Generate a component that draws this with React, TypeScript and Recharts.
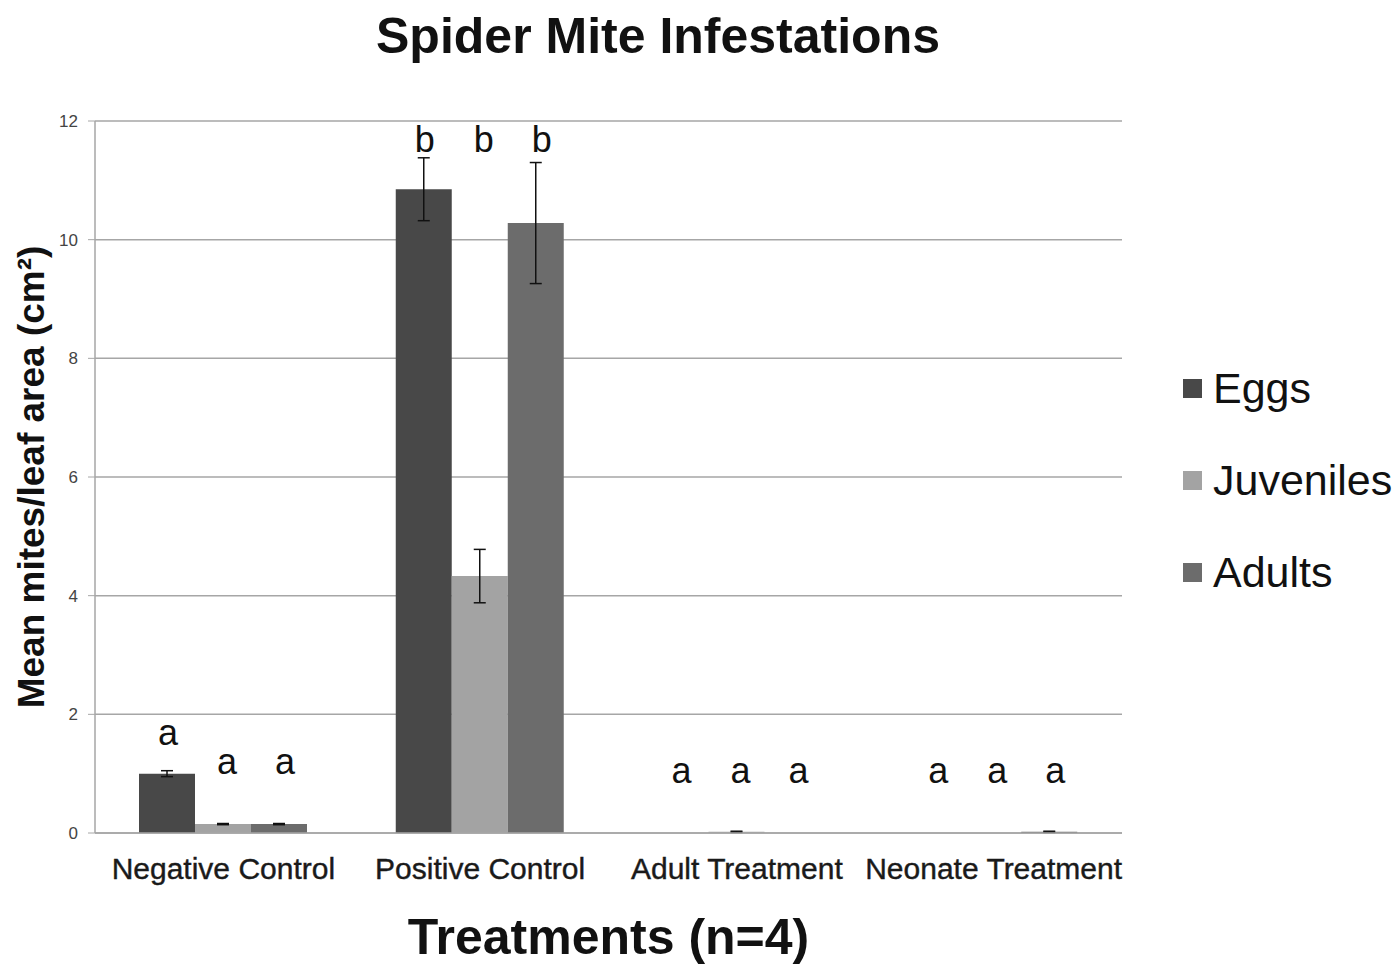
import React from 'react';
import { BarChart, Bar, XAxis, YAxis, CartesianGrid, ErrorBar, Legend, Rectangle } from 'recharts';

const categories = ['Negative Control', 'Positive Control', 'Adult Treatment', 'Neonate Treatment'];

const eggs = [1.0, 10.85, 0, 0];
const eggsErr = [0.05, 0.53, 0, 0];
const juveniles = [0.15, 4.33, 0.02, 0];
const juvenilesErr = [0.01, 0.45, 0.01, 0];
const adults = [0.15, 10.28, 0, 0.02];
const adultsErr = [0.01, 1.02, 0, 0.01];

// significance letters and the height (in data units) where each sits
const eggsLetters = ['a', 'b', 'a', 'a'];
const juvenilesLetters = ['a', 'b', 'a', 'a'];
const adultsLetters = ['a', 'b', 'a', 'a'];
const eggsLetterAt = [1.69, 11.68, 1.06, 1.06];
const juvenilesLetterAt = [1.21, 11.68, 1.06, 1.06];
const adultsLetterAt = [1.21, 11.68, 1.06, 1.06];

const yTicks = [0, 2, 4, 6, 8, 10, 12];

const data = categories.map((name, i) => ({
  name,
  eggs: eggs[i],
  eggsErr: eggsErr[i],
  juveniles: juveniles[i],
  juvenilesErr: juvenilesErr[i],
  adults: adults[i],
  adultsErr: adultsErr[i],
}));

const series = [
  { key: 'eggs', label: 'Eggs', color: '#484848', letters: eggsLetters, at: eggsLetterAt, dx: 1 },
  { key: 'juveniles', label: 'Juveniles', color: '#a3a3a3', letters: juvenilesLetters, at: juvenilesLetterAt, dx: 4 },
  { key: 'adults', label: 'Adults', color: '#6c6c6c', letters: adultsLetters, at: adultsLetterAt, dx: 6 },
];

const W = 1397;
const H = 966;
const M = { top: 121, right: 275, bottom: 0, left: 0 };
const X_AXIS_H = 133;
const PLOT_H = H - M.top - M.bottom - X_AXIS_H;
const Y_MAX = 12;
const FONT = '"Liberation Sans", Arial, sans-serif';

// bar shape that also draws the significance letter above it
const barWithLetter = (letters: string[], at: number[], dx: number) => (props: any) => {
  const { x, y, width, height, index, fill } = props;
  const bottom = Number(y) + Number(height);
  const ly = bottom - (at[index] / Y_MAX) * PLOT_H;
  return (
    <g>
      <Rectangle x={x} y={y} width={width} height={height} fill={fill} />
      <text
        x={Number(x) + Number(width) / 2 + dx}
        y={ly}
        textAnchor="middle"
        dominantBaseline="central"
        fontSize={36}
        fontFamily={FONT}
        fill="#111"
      >
        {letters[index]}
      </text>
    </g>
  );
};

const LegendContent = () => (
  <div style={{ fontFamily: FONT }}>
    {series.map((s) => (
      <div key={s.key} style={{ display: 'flex', alignItems: 'center', height: 92 }}>
        <span style={{ width: 19, height: 19, background: s.color, marginRight: 11, display: 'inline-block' }} />
        <span style={{ fontSize: 43, color: '#111' }}>{s.label}</span>
      </div>
    ))}
  </div>
);

export default function App() {
  return (
    <div style={{ position: 'absolute', left: 0, top: 0, width: W, height: H, background: '#fff' }}>
      <div
        style={{
          position: 'absolute',
          left: 0,
          width: 1316,
          top: 7,
          textAlign: 'center',
          fontFamily: FONT,
          fontWeight: 'bold',
          fontSize: 50,
          color: '#111',
        }}
      >
        Spider Mite Infestations
      </div>
      <BarChart width={W} height={H} data={data} margin={M} barGap={0} barSize={56}>
        <CartesianGrid vertical={false} stroke="#a6a6a6" strokeWidth={1.5} />
        <XAxis
          dataKey="name"
          height={X_AXIS_H}
          axisLine={{ stroke: '#a6a6a6', strokeWidth: 1.5 }}
          tickLine={false}
          tick={{ fontSize: 30, fill: '#1a1a1a', fontFamily: FONT, stroke: '#1a1a1a', strokeWidth: 0.4 }}
          tickMargin={19}
          interval={0}
          label={{
            value: 'Treatments (n=4)',
            position: 'insideBottom',
            offset: 12,
            fontSize: 50,
            fontWeight: 'bold',
            fill: '#111',
            fontFamily: FONT,
          }}
        />
        <YAxis
          width={95}
          domain={[0, Y_MAX]}
          ticks={yTicks}
          axisLine={{ stroke: '#a6a6a6', strokeWidth: 1.5 }}
          tickLine={{ stroke: '#a6a6a6' }}
          tickSize={7}
          tickMargin={10}
          tick={{ fontSize: 17, fill: '#444', fontFamily: FONT }}
          label={{
            value: 'Mean mites/leaf area (cm²)',
            angle: -90,
            position: 'insideLeft',
            offset: 31,
            style: { textAnchor: 'middle' },
            fontSize: 37,
            fontWeight: 'bold',
            fill: '#111',
            fontFamily: FONT,
          }}
        />
        <Legend
          layout="vertical"
          align="center"
          verticalAlign="middle"
          wrapperStyle={{ left: 1183, top: 342, width: 214 }}
          content={<LegendContent />}
        />
        {series.map((s) => (
          <Bar
            key={s.key}
            dataKey={s.key}
            name={s.label}
            fill={s.color}
            isAnimationActive={false}
            shape={barWithLetter(s.letters, s.at, s.dx)}
          >
            <ErrorBar dataKey={`${s.key}Err`} width={6} stroke="#111" strokeWidth={1.5} />
          </Bar>
        ))}
      </BarChart>
    </div>
  );
}
